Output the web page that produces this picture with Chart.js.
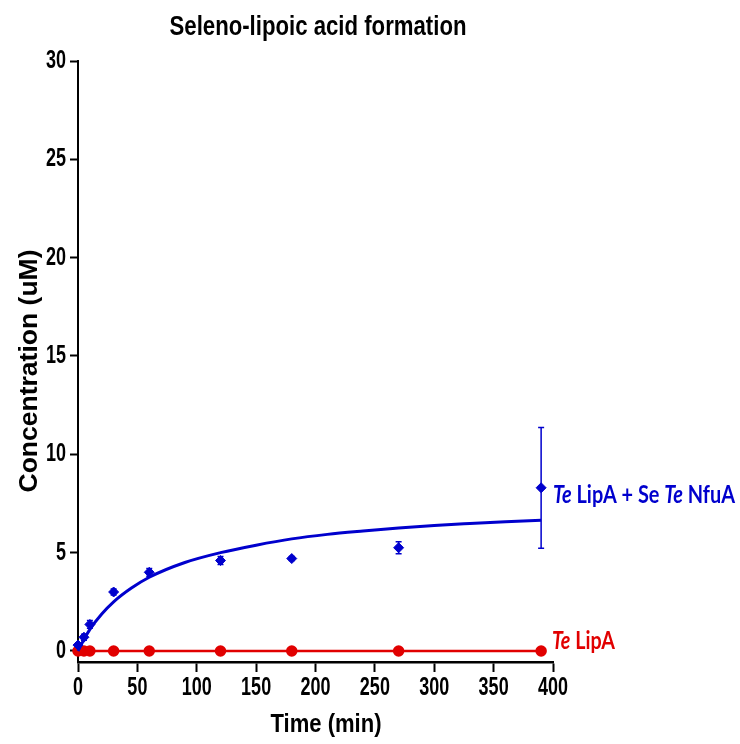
<!DOCTYPE html>
<html>
<head>
<meta charset="utf-8">
<script src="https://cdn.jsdelivr.net/npm/chart.js@4"></script>
<style>
	body { margin: 0; background: #fff; }
	#wrap { width: 740px; height: 744px; }
</style>
</head>
<body>
<div id="wrap"><canvas id="dataChart" width="740" height="744"></canvas></div>
<script>
// sample times (min) and measured concentrations (uM)
const nfuaTimes = [0, 5, 10, 30, 60, 120, 180, 270, 390];
const nfuaMeans = [0.3, 0.7, 1.35, 3.0, 4.0, 4.6, 4.7, 5.25, 8.3];
const nfuaErrors = [0.1, 0.15, 0.2, 0.15, 0.2, 0.2, 0.1, 0.3, 3.07];

const lipaTimes = [0, 5, 10, 30, 60, 120, 180, 270, 390];
const lipaMeans = [0, 0, 0, 0, 0, 0, 0, 0, 0];

// fitted curve
const fitTimes = [0, 5, 10, 20, 30, 45, 60, 90, 120, 150, 180, 210, 240, 270, 300, 330, 360, 390];
const fitValues = [0, 0.58, 1.1, 1.88, 2.5, 3.2, 3.75, 4.5, 5.0, 5.38, 5.7, 5.93, 6.1, 6.25, 6.38, 6.48, 6.57, 6.65];

const yTicks = [0, 5, 10, 15, 20, 25, 30];
const xTicks = [0, 50, 100, 150, 200, 250, 300, 350, 400];

const chartTitle = 'Seleno-lipoic acid formation';
const xTitle = 'Time (min)';
const yTitle = 'Concentration (uM)';

const BLUE = 'rgb(0, 0, 205)';
const RED = 'rgb(225, 0, 0)';
const SANS = "'Liberation Sans', Arial, sans-serif";

const toPoints = (xs, ys) => xs.map((x, i) => ({ x: x, y: ys[i] }));

// draw text squeezed horizontally (the original uses a narrow face)
function narrowText(ctx, text, x, y, font, squeeze, align) {
	ctx.save();
	ctx.font = font;
	ctx.textAlign = align || 'center';
	ctx.translate(x, y);
	ctx.scale(squeeze, 1);
	ctx.fillText(text, 0, 0);
	ctx.restore();
}

function fitText(ctx, text, cx, y, font, width) {
	ctx.font = font;
	const w = ctx.measureText(text).width;
	narrowText(ctx, text, cx, y, font, width / w, 'center');
}

const errorBars = {
	id: 'errorBars',
	afterDatasetsDraw(chart) {
		const ctx = chart.ctx;
		const xs = chart.scales.x;
		const ys = chart.scales.y;
		ctx.save();
		ctx.strokeStyle = BLUE;
		ctx.lineWidth = 1.5;
		nfuaTimes.forEach((t, i) => {
			const e = nfuaErrors[i];
			if (!e) return;
			const px = xs.getPixelForValue(t);
			const top = ys.getPixelForValue(nfuaMeans[i] + e);
			const bot = ys.getPixelForValue(nfuaMeans[i] - e);
			ctx.beginPath();
			ctx.moveTo(px, top);
			ctx.lineTo(px, bot);
			ctx.moveTo(px - 3, top);
			ctx.lineTo(px + 3, top);
			ctx.moveTo(px - 3, bot);
			ctx.lineTo(px + 3, bot);
			ctx.stroke();
		});
		ctx.restore();
	}
};

const labels = {
	id: 'labels',
	afterDraw(chart) {
		const ctx = chart.ctx;
		const xs = chart.scales.x;
		const ys = chart.scales.y;
		ctx.save();
		ctx.fillStyle = '#000';
		ctx.textBaseline = 'alphabetic';

		fitText(ctx, chartTitle, 318, 35, 'bold 27px ' + SANS, 297);
		fitText(ctx, xTitle, 326, 732, 'bold 25px ' + SANS, 111);

		ctx.save();
		ctx.translate(37, 371);
		ctx.rotate(-Math.PI / 2);
		fitText(ctx, yTitle, 0, 0, 'bold 25px ' + SANS, 243);
		ctx.restore();

		// tick labels
		const tickFont = 'bold 25px ' + SANS;
		yTicks.forEach(v => {
			narrowText(ctx, String(v), 66, ys.getPixelForValue(v) + 7, tickFont, 0.72, 'right');
		});
		xTicks.forEach(v => {
			narrowText(ctx, String(v), xs.getPixelForValue(v), 695, tickFont, 0.72, 'center');
		});

		// series labels, with italic "Te"
		const drawParts = (parts, x, y, color, width) => {
			ctx.fillStyle = color;
			ctx.textAlign = 'left';
			const fontOf = p => (p.italic ? 'italic ' : '') + "bold 24px Lato, 'Open Sans', sans-serif";
			let total = 0;
			parts.forEach(p => { ctx.font = fontOf(p); total += ctx.measureText(p.text).width; });
			ctx.save();
			ctx.translate(x, y);
			ctx.scale(width / total, 1);
			let cx = 0;
			parts.forEach(p => {
				ctx.font = fontOf(p);
				ctx.fillText(p.text, cx, 0);
				cx += ctx.measureText(p.text).width;
			});
			ctx.restore();
		};
		drawParts([
			{ text: 'Te', italic: true },
			{ text: ' LipA + Se ' },
			{ text: 'Te', italic: true },
			{ text: ' NfuA' }
		], 553, 503, BLUE, 182);
		drawParts([
			{ text: 'Te', italic: true },
			{ text: ' LipA' }
		], 552, 649, RED, 63);
		ctx.restore();
	}
};

new Chart(document.getElementById('dataChart'), {
	type: 'scatter',
	data: {
		datasets: [
			{
				label: 'fit',
				data: toPoints(fitTimes, fitValues),
				showLine: true,
				borderColor: BLUE,
				borderWidth: 3,
				pointRadius: 0,
				cubicInterpolationMode: 'monotone',
				clip: false
			},
			{
				label: 'Te LipA + Se Te NfuA',
				data: toPoints(nfuaTimes, nfuaMeans),
				showLine: false,
				pointStyle: 'rectRot',
				pointRadius: 5,
				backgroundColor: BLUE,
				borderColor: BLUE,
				clip: false
			},
			{
				label: 'Te LipA',
				data: toPoints(lipaTimes, lipaMeans),
				showLine: true,
				borderColor: RED,
				borderWidth: 2.5,
				pointRadius: 4.5,
				backgroundColor: RED,
				pointBorderColor: RED,
				clip: false
			}
		]
	},
	options: {
		responsive: false,
		animation: false,
		layout: { padding: { left: 0, top: 61, right: 187, bottom: 0 } },
		plugins: { legend: { display: false }, tooltip: { enabled: false } },
		scales: {
			x: {
				type: 'linear',
				min: 0,
				max: 400,
				afterFit: scale => { scale.height = 82; },
				afterBuildTicks: scale => { scale.ticks = xTicks.map(v => ({ value: v })); },
				border: { color: '#000', width: 2.5 },
				grid: { drawOnChartArea: false, drawTicks: true, tickLength: 10, tickWidth: 2, tickColor: '#000' },
				ticks: { display: false }
			},
			y: {
				type: 'linear',
				min: -0.56,
				max: 30,
				afterFit: scale => { scale.width = 78; },
				afterBuildTicks: scale => { scale.ticks = yTicks.map(v => ({ value: v })); },
				border: { color: '#000', width: 2 },
				grid: { drawOnChartArea: false, drawTicks: true, tickLength: 8, tickWidth: 2, tickColor: '#000' },
				ticks: { display: false }
			}
		}
	},
	plugins: [errorBars, labels]
});
</script>
</body>
</html>
